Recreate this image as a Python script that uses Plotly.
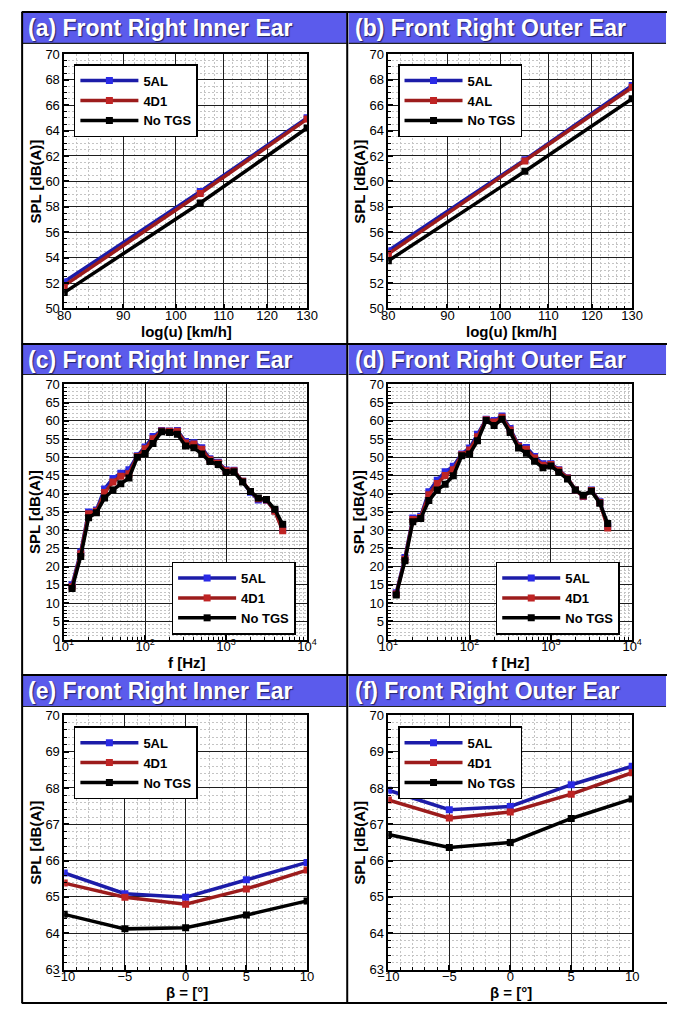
import math
import plotly.graph_objects as go

W, H = 678, 1014

# ---------------- data ----------------
speed = [80, 105, 130]
a_5AL = [52.1, 59.2, 65.0]
a_4D1 = [51.8, 59.05, 64.9]
a_noTGS = [51.25, 58.3, 64.2]

b_5AL = [54.55, 61.7, 67.55]
b_4AL = [54.3, 61.6, 67.4]
b_noTGS = [53.75, 60.8, 66.5]

freq = [12.5, 16, 20, 25, 31.5, 40, 50, 63, 80, 100, 125, 160, 200, 250, 315,
        400, 500, 630, 800, 1000, 1250, 1600, 2000, 2500, 3150, 4000, 5000]
c_5AL = [15.0, 24.0, 35.0, 35.5, 41.3, 44.2, 45.6, 46.6, 50.4, 52.8, 55.7, 57.3, 57.2, 57.3, 54.3,
         54.0, 52.6, 49.6, 48.6, 46.5, 46.4, 43.4, 40.4, 38.3, 38.2, 35.3, 30.2]
c_4D1 = [14.5, 23.5, 34.5, 35.2, 40.3, 43.2, 44.8, 45.5, 50.2, 52.3, 55.1, 57.2, 57.1, 57.1, 53.9,
         53.6, 52.2, 49.3, 48.4, 46.3, 46.3, 43.4, 40.6, 38.6, 38.3, 35.2, 29.8]
c_noTGS = [14.0, 22.8, 33.4, 34.8, 38.8, 41.0, 42.7, 44.3, 50.0, 51.0, 53.8, 57.0, 56.8, 56.3, 53.1,
           52.6, 50.9, 48.8, 48.0, 45.8, 46.0, 43.2, 40.6, 38.8, 38.4, 35.7, 31.6]

d_5AL = [12.8, 22.5, 33.3, 33.8, 40.5, 43.7, 46.0, 47.5, 50.9, 52.5, 56.3, 60.4, 60.1, 61.3, 57.9,
         53.2, 52.7, 50.2, 48.2, 48.2, 46.6, 44.4, 41.0, 39.2, 41.0, 37.8, 31.1]
d_4D1 = [12.5, 22.0, 32.9, 33.5, 39.7, 42.8, 45.0, 46.6, 50.7, 52.0, 55.6, 60.3, 59.7, 61.0, 57.5,
         53.0, 52.2, 49.8, 47.8, 48.0, 46.4, 44.3, 41.0, 39.3, 40.9, 37.6, 30.6]
d_noTGS = [12.2, 21.6, 32.3, 33.2, 38.1, 41.0, 42.6, 44.9, 50.4, 50.9, 54.5, 60.1, 58.7, 60.4, 56.8,
           52.5, 51.1, 48.9, 47.1, 47.6, 45.9, 44.0, 41.0, 39.6, 40.7, 37.4, 31.8]

beta = [-10, -5, 0, 5, 10]
e_5AL = [65.66, 65.09, 64.99, 65.47, 65.95]
e_4D1 = [65.38, 64.99, 64.80, 65.22, 65.74]
e_noTGS = [64.52, 64.12, 64.15, 64.50, 64.89]

f_5AL = [67.94, 67.40, 67.49, 68.09, 68.60]
f_4D1 = [67.67, 67.17, 67.34, 67.83, 68.42]
f_noTGS = [66.72, 66.36, 66.50, 67.16, 67.70]

panel_titles = ["(a) Front Right Inner Ear", "(b) Front Right Outer Ear",
                "(c) Front Right Inner Ear", "(d) Front Right Outer Ear",
                "(e) Front Right Inner Ear", "(f) Front Right Outer Ear"]
x_titles = ["log(u) [km/h]", "log(u) [km/h]", "f [Hz]", "f [Hz]", "β = [°]", "β = [°]"]
y_title = "SPL [dB(A)]"

speed_ticks = [80, 90, 100, 110, 120, 130]
freq_ticks = [10, 100, 1000, 10000]
freq_ticktext = ["10<sup>1</sup>", "10<sup>2</sup>", "10<sup>3</sup>", "10<sup>4</sup>"]

panels = [
    (speed, [("5AL", a_5AL), ("4D1", a_4D1), ("No TGS", a_noTGS)]),
    (speed, [("5AL", b_5AL), ("4AL", b_4AL), ("No TGS", b_noTGS)]),
    (freq, [("5AL", c_5AL), ("4D1", c_4D1), ("No TGS", c_noTGS)]),
    (freq, [("5AL", d_5AL), ("4D1", d_4D1), ("No TGS", d_noTGS)]),
    (beta, [("5AL", e_5AL), ("4D1", e_4D1), ("No TGS", e_noTGS)]),
    (beta, [("5AL", f_5AL), ("4D1", f_4D1), ("No TGS", f_noTGS)]),
]

# ---------------- styling ----------------
FONT = "Arial, 'Liberation Sans', sans-serif"
line_cols = ["#1c1ca8", "#9c1c1c", "#000000"]
mark_cols = ["#2a2ae6", "#bf2424", "#000000"]
BAR = "#5b5bec"

def fx(px):
    return px / W

def fy(py):
    return 1 - py / H

# plot area pixel boxes (x0, x1, y0, y1)
cols = [(55, 306), (390, 642)]
rows = [(48, 306), (383, 642), (719, 977)]
boxes = []
for r in rows:
    for c in cols:
        boxes.append((c[0], c[1], r[0], r[1]))

fig = go.Figure()

for i, (xs, series) in enumerate(panels):
    n = i + 1
    leg = "legend" if n == 1 else f"legend{n}"
    for k, (name, ys) in enumerate(series):
        fig.add_trace(go.Scatter(
            x=xs, y=ys, name=name, mode="lines+markers",
            line=dict(color=line_cols[k], width=3.5),
            marker=dict(symbol="square", size=7, color=mark_cols[k]),
            xaxis=f"x{n}", yaxis=f"y{n}", legend=leg, showlegend=True,
        ))

layout = dict(
    width=W, height=H, margin=dict(l=0, r=0, t=0, b=0),
    paper_bgcolor="white", plot_bgcolor="white",
    font=dict(family=FONT, color="black", size=13),
)

minor_speed = [v for v in range(80, 131, 2) if v % 10 != 0]
minor_freq = [m * 10 ** d for d in range(1, 4) for m in range(2, 10)]

for i, (x0, x1, y0, y1) in enumerate(boxes):
    n = i + 1
    xk = "xaxis" if n == 1 else f"xaxis{n}"
    yk = "yaxis" if n == 1 else f"yaxis{n}"
    base = dict(showline=True, linecolor="black", linewidth=1.5, mirror=True,
                showgrid=True, gridcolor="#1e1e1e", gridwidth=1, zeroline=False,
                ticks="inside", ticklen=5, tickwidth=2, tickcolor="black",
                tickfont=dict(size=13, color="black", family=FONT))
    minor = dict(showgrid=True, gridcolor="#c4c4c4", griddash="2px,2px", gridwidth=1,
                 ticks="inside", ticklen=3, tickwidth=1, tickcolor="black")
    xa = dict(base, domain=[fx(x0), fx(x1)], anchor=f"y{n}", ticklabelstandoff=-6)
    ya = dict(base, domain=[fy(y1), fy(y0)], anchor=f"x{n}", ticklabelstandoff=0)
    if n in (1, 2):
        xa.update(type="log", range=[math.log10(80), math.log10(130)],
                  tickvals=speed_ticks, ticktext=[str(v) for v in speed_ticks],
                  minor=dict(minor, tickvals=minor_speed))
        ya.update(range=[50, 70], dtick=2, tick0=50, minor=dict(minor, dtick=0.5))
    elif n in (3, 4):
        xa.update(type="log", range=[1, 4], tickvals=freq_ticks, ticktext=freq_ticktext,
                  minor=dict(minor, tickvals=minor_freq))
        ya.update(range=[0, 70], dtick=5, tick0=0, minor=dict(minor, dtick=1))
    else:
        xa.update(range=[-10, 10], dtick=5, tick0=-10, minor=dict(minor, dtick=1))
        ya.update(range=[63, 70], dtick=1, tick0=63, minor=dict(minor, dtick=0.2))
    layout[xk] = xa
    layout[yk] = ya

# legends: (left px, top px, anchor)
leg_pos = [(65, 58, "top"), (400, 58, "top"),
           (166, 637, "bottom"), (501, 637, "bottom"),
           (65, 730, "top"), (400, 730, "top")]
for i, (lx, ly, anc) in enumerate(leg_pos):
    n = i + 1
    lk = "legend" if n == 1 else f"legend{n}"
    layout[lk] = dict(x=fx(lx), y=fy(ly), xanchor="left", yanchor=anc,
                      xref="paper", yref="paper",
                      bgcolor="white", bordercolor="black", borderwidth=1.5,
                      font=dict(size=13, family=FONT, color="black", weight="bold"),
                      itemwidth=58, tracegroupgap=0)

shapes = []
annotations = []
black_line = dict(color="black", width=2)
# title bars
bar_cols = [(12, 347), (349, 677)]
bar_rows = [(6, 37), (343, 373), (679, 710)]
for r, (by0, by1) in enumerate(bar_rows):
    for c, (bx0, bx1) in enumerate(bar_cols):
        shapes.append(dict(type="rect", xref="paper", yref="paper",
                           x0=fx(bx0), x1=fx(bx1), y0=fy(by1), y1=fy(by0),
                           fillcolor=BAR, line=dict(width=0), layer="below"))
        shapes.append(dict(type="line", xref="paper", yref="paper",
                           x0=fx(bx0), x1=fx(bx1), y0=fy(by1), y1=fy(by1),
                           line=dict(color="#222", width=1.2)))
        idx = r * 2 + c
        annotations.append(dict(text=panel_titles[idx], xref="paper", yref="paper",
                                x=fx(bx0 + 4), y=fy((by0 + by1) / 2), xanchor="left", yanchor="middle",
                                showarrow=False,
                                font=dict(size=23, color="white", family=FONT, weight="bold",
                                          shadow="1px 1px 1px #20206a")))
# frame lines
for yy in (5, 342, 678, 1011):
    shapes.append(dict(type="line", xref="paper", yref="paper", x0=fx(11), x1=fx(678),
                       y0=fy(yy), y1=fy(yy), line=black_line))
for xx in (11.5, 347.5):
    shapes.append(dict(type="line", xref="paper", yref="paper", x0=fx(xx), x1=fx(xx),
                       y0=fy(5), y1=fy(1011), line=black_line))

# axis titles
for i, (x0, x1, y0, y1) in enumerate(boxes):
    annotations.append(dict(text=x_titles[i], xref="paper", yref="paper",
                            x=fx((x0 + x1) / 2 + 1), y=fy(y1 + 23), xanchor="center", yanchor="middle",
                            showarrow=False, font=dict(size=15, family=FONT, color="black", weight="bold")))
    annotations.append(dict(text=y_title, xref="paper", yref="paper",
                            x=fx(x0 - 30), y=fy((y0 + y1) / 2), xanchor="center", yanchor="middle",
                            textangle=-90, showarrow=False,
                            font=dict(size=15, family=FONT, color="black", weight="bold")))

layout["shapes"] = shapes
layout["annotations"] = annotations
fig.update_layout(**layout)
fig.write_html("out.html")
